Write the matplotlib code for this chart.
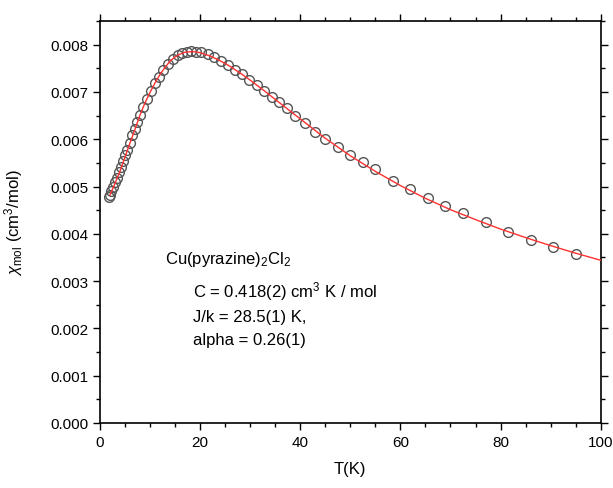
import numpy as np
import matplotlib
matplotlib.use('Agg')
import matplotlib.pyplot as plt
from matplotlib.ticker import MultipleLocator

plt.rcParams['font.family'] = ['Liberation Sans', 'DejaVu Sans']
plt.rcParams['mathtext.fontset'] = 'custom'
plt.rcParams['mathtext.rm'] = 'Liberation Sans'
plt.rcParams['mathtext.it'] = 'Liberation Sans:italic'

# measured points
T = [1.8, 2.0, 2.3, 2.7, 3.1, 3.5, 3.9, 4.3, 4.7, 5.1, 5.5, 6.0, 6.5, 7.0, 7.5,
     8.0, 8.7, 9.4, 10.1, 10.9, 11.7, 12.6, 13.5, 14.5, 15.5, 16.4, 17.3, 18.2,
     19.1, 20.2, 21.5, 22.8, 24.2, 25.6, 27.0, 28.4, 29.8, 31.3, 32.8, 34.3,
     35.8, 37.3, 39.0, 41.0, 43.0, 45.0, 47.5, 50.0, 52.5, 55.0, 58.5, 62.0,
     65.5, 69.0, 72.5, 77.0, 81.5, 86.0, 90.5, 95.0]
chi = [0.00478, 0.00483, 0.00490, 0.00498, 0.00509, 0.00519, 0.00530, 0.00542,
       0.00553, 0.00566, 0.00578, 0.00593, 0.00608, 0.00622, 0.00637, 0.00652,
       0.00669, 0.00686, 0.00701, 0.00718, 0.00732, 0.00747, 0.00760, 0.00770,
       0.00778, 0.00782, 0.00785, 0.00786, 0.00785, 0.00784, 0.00780, 0.00774,
       0.00765, 0.00757, 0.00747, 0.00737, 0.00726, 0.00715, 0.00703, 0.00690,
       0.00678, 0.00665, 0.00650, 0.00635, 0.00616, 0.00601, 0.00583, 0.00566,
       0.00551, 0.00536, 0.00511, 0.00494, 0.00476, 0.00459, 0.00444, 0.00424,
       0.00403, 0.00386, 0.00373, 0.00358]

# fit curve
T_fit = [2.0, 3.0, 4.0, 5.0, 6.0, 7.0, 8.0, 9.0, 10.0, 11.0, 12.0, 13.0, 14.0,
         15.0, 16.0, 17.0, 18.0, 19.0, 20.0, 22.0, 24.0, 26.0, 28.0, 30.0, 33.0,
         36.0, 40.0, 45.0, 50.0, 55.0, 60.0, 65.0, 70.0, 75.0, 80.0, 85.0, 90.0,
         95.0, 100.0]
chi_fit = [0.00482, 0.00506, 0.00532, 0.00562, 0.00592, 0.00621, 0.00651, 0.00677,
           0.00699, 0.00719, 0.00737, 0.00752, 0.00765, 0.00774, 0.00780, 0.00784,
           0.00785, 0.00785, 0.00783, 0.00776, 0.00766, 0.00754, 0.00740, 0.00725,
           0.00701, 0.00676, 0.00643, 0.00602, 0.00565, 0.00532, 0.00502, 0.00475,
           0.00451, 0.00430, 0.00410, 0.00392, 0.00375, 0.00359, 0.00344]

fig = plt.figure(figsize=(6.13, 4.89), dpi=100)
ax = fig.add_axes([0.163, 0.133, 0.817, 0.822])

ax.plot(T, chi, 'o', ms=7, mfc='none', mec='#555555', mew=1.0, zorder=2)
ax.plot(T_fit, chi_fit, '-', color='#ff3030', lw=1.0, zorder=3)

ax.set_xlim(0, 100)
ax.set_ylim(0, 0.0085)
ax.xaxis.set_major_locator(MultipleLocator(20))
ax.xaxis.set_minor_locator(MultipleLocator(5))
ax.yaxis.set_major_locator(MultipleLocator(0.001))
ax.yaxis.set_minor_locator(MultipleLocator(0.0005))
ax.yaxis.set_major_formatter(plt.FormatStrFormatter('%.3f'))
ax.tick_params(which='both', direction='out', top=True, right=True, width=1.0,
               labelsize=11)
ax.tick_params(which='major', length=5)
ax.tick_params(which='minor', length=3)
for s in ax.spines.values():
    s.set_linewidth(1.2)

ax.set_xlabel('T(K)', fontsize=12, labelpad=9)
ax.set_ylabel(r'$\chi_{\rm mol}$ (cm$^3$/mol)', fontsize=12, labelpad=18)

ax.text(13, 0.00339, r'Cu(pyrazine)$_2$Cl$_2$', fontsize=12)
ax.text(18.5, 0.00267, r'C = 0.418(2) cm$^3$ K / mol', fontsize=12)
ax.text(18.5, 0.00216, 'J/k = 28.5(1) K,', fontsize=12)
ax.text(18.5, 0.00166, 'alpha = 0.26(1)', fontsize=12)

fig.savefig('out.png', dpi=100)
